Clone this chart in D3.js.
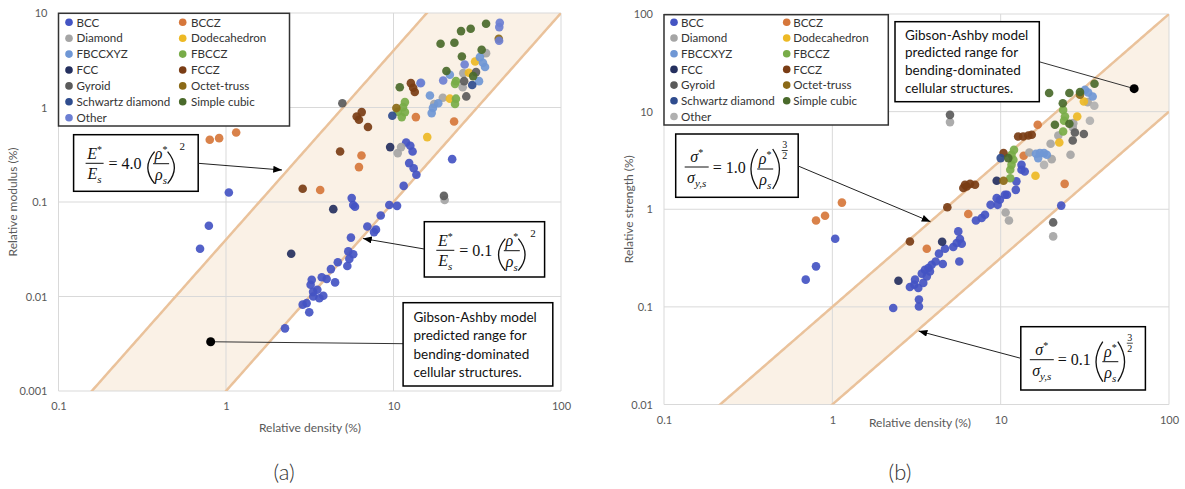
<!DOCTYPE html>
<html><head><meta charset="utf-8">
<script src="https://cdn.jsdelivr.net/npm/d3@7"></script>
<style>body{margin:0;background:#fff}svg{display:block}</style>
</head><body><svg id="c" width="1185" height="489"></svg>
<script>
// ---------- tick labels ----------
const xTicks=[0.1,1,10,100];
const yTicksModulus=[0.001,0.01,0.1,1,10];
const yTicksStrength=[0.01,0.1,1,10,100];
// ---------- categories ----------
const seriesNames=["BCC","BCCZ","Diamond","Dodecahedron","FBCCXYZ","FBCCZ","FCC","FCCZ","Gyroid","Octet-truss","Schwartz diamond","Simple cubic","Other"];
const colorsModulus=["#4454c3","#d6773b","#a5a5a5","#edb925","#6f97d5","#78ac48","#25305f","#7a3d15","#5b5b5b","#8b6a17","#2f4c8e","#4a6a2b","#6c7fd3"];
const colorsStrength=["#4454c3","#d6773b","#a5a5a5","#edb925","#6f97d5","#78ac48","#25305f","#7a3d15","#5b5b5b","#8b6a17","#2f4c8e","#4a6a2b","#b0b0b0"];
// ---------- model coefficients ----------
const modulusCoeffs=[4.0,0.1]; const modulusExponent=2;
const strengthCoeffs=[1.0,0.1]; const strengthExponent=1.5;
// ---------- (a) relative density (%) vs relative modulus (%) ----------
const mBCC=[[1.04,0.126],[0.79,0.056],[0.70,0.032],[22.4,0.284],[2.25,0.0046],[5.63,0.110],[5.75,0.093],[5.89,0.089],[9.44,0.093],[10.5,0.091],[8.39,0.072],[6.98,0.055],[7.86,0.051],[7.65,0.048],[5.57,0.042],[5.37,0.030],[5.75,0.028],[5.45,0.025],[5.30,0.021],[4.65,0.023],[4.23,0.0195],[3.99,0.0153],[4.48,0.0141],[3.73,0.0160],[3.25,0.0150],[3.20,0.0133],[3.51,0.0118],[3.81,0.0102],[3.61,0.0096],[3.32,0.0100],[3.03,0.0085],[2.87,0.0082],[3.14,0.0068],[3.31,0.0112],[11.9,0.426],[12.6,0.393],[13.0,0.342],[12.4,0.258],[13.2,0.228],[13.7,0.194],[11.5,0.148]];
const mBCCZ=[[0.80,0.455],[0.91,0.474],[1.15,0.544],[6.44,0.311],[6.22,0.234],[3.65,0.134],[13.6,0.791],[23.0,0.711]];
const mDiamond=[[20.2,0.105],[10.6,0.329],[11.1,0.381],[35.7,3.76],[26.1,2.31],[25.9,1.64],[19.7,1.27],[17.5,1.09]];
const mDodecahedron=[[15.9,0.486],[30.7,3.07],[28.2,2.33],[21.7,1.24]];
const mFBCCXYZ=[[35.2,2.68],[34.2,2.97],[32.8,3.41],[32.4,1.90],[16.9,0.872],[17.2,0.99],[18.5,1.11],[16.5,1.34],[14.6,1.83],[21.7,2.22]];
const mFBCCZ=[[23.6,1.90],[23.3,1.78],[23.6,1.24],[23.3,1.09],[11.7,1.14],[11.4,1.01],[11.2,0.791],[11.7,0.894],[10.6,0.90]];
const mFCC=[[2.45,0.0283],[4.37,0.084],[9.55,0.381]];
const mFCCZ=[[6.03,0.803],[6.22,0.741],[6.46,0.894],[7.04,0.621],[4.80,0.342],[2.87,0.138],[12.7,1.81],[13.1,1.62],[13.4,1.46]];
const mGyroid=[[4.95,1.11],[20.0,0.116],[31.1,2.37],[26.4,1.90],[27.2,1.31]];
const mOctet=[[10.4,0.986],[42.5,5.33]];
const mSchwartz=[[9.84,0.817],[29.5,1.73]];
const mSimpleCubic=[[35.7,7.69],[28.9,6.81],[25.3,6.43],[19.1,4.72],[23.1,4.84],[33.6,4.08],[25.6,3.47],[20.7,2.43],[29.9,2.15],[10.9,1.64]];
const mOther=[[26.6,2.85],[19.8,1.93],[42.8,7.09],[43.1,7.87],[42.7,5.08],[14.5,1.81]];
// ---------- (b) relative density (%) vs relative strength (%) ----------
const sBCC=[[1.04,0.499],[0.80,0.260],[0.695,0.190],[22.9,1.09],[2.30,0.0975],[3.27,0.119],[3.27,0.101],[2.89,0.160],[3.07,0.169],[3.24,0.156],[3.47,0.176],[3.10,0.190],[3.40,0.219],[3.55,0.240],[3.64,0.205],[3.80,0.231],[3.72,0.250],[3.89,0.270],[4.11,0.292],[4.53,0.275],[4.30,0.351],[4.67,0.394],[5.23,0.410],[5.48,0.451],[5.73,0.495],[5.60,0.593],[5.87,0.444],[5.68,0.292],[7.13,0.768],[7.71,0.813],[8.07,0.879],[9.89,1.25],[10.9,1.41],[9.59,1.11],[8.71,1.11],[13.3,2.85],[13.3,2.54],[13.9,2.44],[12.4,1.93],[12.3,1.58],[10.6,1.41],[9.47,1.30]];
const sBCCZ=[[1.14,1.17],[0.80,0.768],[0.905,0.858],[3.64,0.394],[6.42,0.893],[24.0,1.82],[16.6,7.33],[13.7,3.53]];
const sDiamond=[[5.00,7.81],[20.5,0.527],[10.7,0.927],[11.2,0.768],[32.9,12.5],[27.0,7.62],[26.8,6.94],[22.0,5.69],[19.8,4.68],[14.8,3.81],[26.0,3.61],[20.1,3.26]];
const sDodecahedron=[[16.1,2.20],[28.5,8.91],[31.2,12.7],[22.3,4.83]];
const sFBCCXYZ=[[33.1,15.7],[35.2,14.3],[31.7,16.7],[17.1,3.76],[18.1,3.76],[18.8,3.61],[16.7,3.34],[16.2,3.70]];
const sFBCCZ=[[23.5,10.4],[24.1,8.91],[23.8,8.05],[23.5,6.25],[11.6,3.61],[11.9,3.21],[11.6,2.85],[11.4,2.54],[11.4,2.08],[12.0,4.06]];
const sFCC=[[2.47,0.185],[4.49,0.465],[9.47,1.96]];
const sFCCZ=[[2.89,0.468],[4.82,1.05],[6.00,1.65],[6.28,1.71],[6.58,1.82],[7.04,1.78],[6.14,1.78],[10.4,3.76],[12.7,5.56],[13.6,5.56],[14.6,5.69],[15.3,5.79]];
const sGyroid=[[5.00,9.27],[20.5,0.733],[27.6,6.11],[31.2,5.89],[26.8,5.06]];
const sOctet=[[10.4,1.96],[29.6,14.9]];
const sSchwartz=[[10.0,3.34]];
const sSimpleCubic=[[19.4,15.5],[25.6,15.5],[29.6,15.9],[36.1,19.3],[23.4,12.2],[21.0,7.33],[25.6,7.50],[11.1,3.34]];
const sOther=[[36.0,11.5],[33.9,8.05],[18.1,2.85]];
// ---------- annotation anchor points (data units) ----------
const gibsonDotModulus=[0.81,0.00332];
const gibsonDotStrength=[62.1,17.2];

const modulusData=[mBCC,mBCCZ,mDiamond,mDodecahedron,mFBCCXYZ,mFBCCZ,mFCC,mFCCZ,mGyroid,mOctet,mSchwartz,mSimpleCubic,mOther];
const strengthData=[sBCC,sBCCZ,sDiamond,sDodecahedron,sFBCCXYZ,sFBCCZ,sFCC,sFCCZ,sGyroid,sOctet,sSchwartz,sSimpleCubic,sOther];

const SANS="Lato,'Noto Sans',sans-serif";
const SERIF="'Liberation Serif','DejaVu Serif',serif";
const svg=d3.select("#c");
const defs=svg.append("defs");
defs.append("marker").attr("id","arr").attr("viewBox","0 0 10 8").attr("refX",10).attr("refY",4)
  .attr("markerWidth",9).attr("markerHeight",7).attr("markerUnits","userSpaceOnUse").attr("orient","auto")
  .append("path").attr("d","M0,0L10,4L0,8Z").attr("fill","#000");

function panel(cfg){
  const g=svg.append("g");
  const x=d3.scaleLog().domain([0.1,100]).range([cfg.left,cfg.right]);
  const y=d3.scaleLog().domain(cfg.yDomain).range([cfg.bottom,cfg.top]);
  const cid="clip"+cfg.id;
  defs.append("clipPath").attr("id",cid).append("rect").attr("x",cfg.left).attr("y",cfg.top)
    .attr("width",cfg.right-cfg.left).attr("height",cfg.bottom-cfg.top);
  const xs=d3.range(0,241).map(i=>Math.pow(10,-1+i*3/240));
  const model=c=>xs.map(v=>[v,c*Math.pow(v/100,cfg.exponent)*100]);
  const upper=model(cfg.coeffs[0]), lower=model(cfg.coeffs[1]);
  const line=d3.line().x(d=>x(d[0])).y(d=>y(d[1]));
  const band=g.append("g").attr("clip-path",`url(#${cid})`);
  band.append("path").attr("d",line(upper.concat(lower.slice().reverse()))+"Z").attr("fill","#faf1e6");
  // grid
  g.append("g").selectAll("line").data(xTicks).join("line")
    .attr("x1",d=>x(d)).attr("x2",d=>x(d)).attr("y1",cfg.top).attr("y2",cfg.bottom)
    .attr("stroke","#d9d9d9").attr("stroke-width",1);
  g.append("g").selectAll("line").data(cfg.yTicks).join("line")
    .attr("y1",d=>y(d)).attr("y2",d=>y(d)).attr("x1",cfg.left).attr("x2",cfg.right)
    .attr("stroke","#d9d9d9").attr("stroke-width",1);
  const bl=g.append("g").attr("clip-path",`url(#${cid})`);
  [upper,lower].forEach(l=>bl.append("path").attr("d",line(l)).attr("fill","none").attr("stroke","#eac29b").attr("stroke-width",2.5));
  // axes
  const ax=g.append("g").attr("transform",`translate(0,${cfg.bottom})`)
    .call(d3.axisBottom(x).tickValues(xTicks).tickFormat(d=>String(d)).tickSize(0).tickPadding(cfg.xPad));
  const ay=g.append("g").attr("transform",`translate(${cfg.left},0)`)
    .call(d3.axisLeft(y).tickValues(cfg.yTicks).tickFormat(d=>String(d)).tickSize(0).tickPadding(11));
  [ax,ay].forEach(a=>{a.select(".domain").remove();a.attr("font-family",SANS).attr("font-size",11);a.selectAll("text").attr("fill","#595959");});
  // points
  cfg.data.forEach((arr,i)=>{
    g.append("g").selectAll("circle").data(arr).join("circle")
      .attr("cx",d=>x(d[0])).attr("cy",d=>y(d[1])).attr("r",4.3)
      .attr("fill",cfg.colors[i]).attr("fill-opacity",0.92);
  });
  // titles
  g.append("text").attr("x",cfg.xTitleX).attr("y",cfg.xTitleY).attr("text-anchor","middle")
    .attr("font-family",SANS).attr("font-size",12).attr("fill","#595959").text("Relative density (%)");
  g.append("text").attr("transform",`translate(${cfg.yTitleX},${(cfg.top+cfg.bottom)/2}) rotate(-90)`).attr("text-anchor","middle")
    .attr("font-family",SANS).attr("font-size",12).attr("fill","#595959").text(cfg.yTitle);
  g.append("text").attr("x",cfg.labelX).attr("y",480).attr("text-anchor","middle")
    .attr("font-family",SANS).attr("font-weight",300).attr("font-size",22).attr("fill","#333").text(cfg.label);
  // legend
  const L=cfg.legend;
  g.append("rect").attr("x",L.x).attr("y",L.y).attr("width",L.w).attr("height",L.h)
    .attr("fill","#fff").attr("stroke","#333").attr("stroke-width",1.5);
  seriesNames.forEach((n,i)=>{
    const col=i%2, row=Math.floor(i/2);
    const cy=L.rowY0+row*L.rowStep;
    g.append("circle").attr("cx",col?L.m2:L.m1).attr("cy",cy).attr("r",3.8).attr("fill",cfg.colors[i]);
    g.append("text").attr("x",col?L.t2:L.t1).attr("y",cy+4.2).attr("font-family",SANS).attr("font-size",11.6)
      .attr("fill","#333").text(n);
  });
  const dot=cfg.dot;
  return {g,x,y,dotPx:[x(dot[0]),y(dot[1])]};
}

function textBox(g,b,lines){
  g.append("rect").attr("x",b.x).attr("y",b.y).attr("width",b.w).attr("height",b.h)
    .attr("fill","#fff").attr("stroke","#000").attr("stroke-width",1.5);
  lines.forEach((t,i)=>g.append("text").attr("x",b.tx).attr("y",b.ty+i*b.ls)
    .attr("font-family",SANS).attr("font-size",13.5).attr("fill","#111").text(t));
}
function arrow(g,x1,y1,x2,y2){
  g.append("line").attr("x1",x1).attr("y1",y1).attr("x2",x2).attr("y2",y2)
    .attr("stroke","#222").attr("stroke-width",1).attr("marker-end","url(#arr)");
}
function eqBox(g,b,kind,coef,L){
  g.append("rect").attr("x",b.x).attr("y",b.y).attr("width",b.w).attr("height",b.h)
    .attr("fill","#fff").attr("stroke","#000").attr("stroke-width",1.5);
  const X=v=>b.x+v, Y=v=>b.y+v;
  const sym=kind==="E"?"E":"σ";
  const t=(xx,yy,size,italic)=>g.append("text").attr("x",xx).attr("y",yy).attr("font-family",SERIF)
    .attr("font-size",size).attr("font-style",italic?"italic":"normal").attr("fill","#111");
  const n1=t(X(L.fc),Y(L.numY),16,true).attr("text-anchor","middle");
  n1.append("tspan").text(sym); n1.append("tspan").attr("dy",-6).attr("font-size",10).attr("font-style","normal").text("*");
  g.append("line").attr("x1",X(L.fc-L.fw/2)).attr("x2",X(L.fc+L.fw/2)).attr("y1",Y(L.barY)).attr("y2",Y(L.barY)).attr("stroke","#111").attr("stroke-width",1);
  const d1=t(X(L.fc),Y(L.denY),16,true).attr("text-anchor","middle");
  d1.append("tspan").text(sym); d1.append("tspan").attr("dy",4).attr("font-size",11).text(kind==="E"?"s":"y,s");
  t(X(L.eqX),Y(L.eqY),16,false).text("= "+coef);
  const mid=(L.pTop+L.pBot)/2;
  g.append("path").attr("d",`M${X(L.pl+7)},${Y(L.pTop)}Q${X(L.pl-6.5)},${Y(mid)} ${X(L.pl+7)},${Y(L.pBot)}`).attr("fill","none").attr("stroke","#111").attr("stroke-width",1.3);
  g.append("path").attr("d",`M${X(L.pr-7)},${Y(L.pTop)}Q${X(L.pr+6.5)},${Y(mid)} ${X(L.pr-7)},${Y(L.pBot)}`).attr("fill","none").attr("stroke","#111").attr("stroke-width",1.3);
  const n2=t(X(L.ic),Y(L.inumY),16,true).attr("text-anchor","middle");
  n2.append("tspan").text("ρ"); n2.append("tspan").attr("dy",-6).attr("font-size",10).attr("font-style","normal").text("*");
  g.append("line").attr("x1",X(L.ic-L.iw/2)).attr("x2",X(L.ic+L.iw/2)).attr("y1",Y(L.ibarY)).attr("y2",Y(L.ibarY)).attr("stroke","#111").attr("stroke-width",1);
  const d2=t(X(L.ic),Y(L.idenY),16,true).attr("text-anchor","middle");
  d2.append("tspan").text("ρ"); d2.append("tspan").attr("dy",4).attr("font-size",11).text("s");
  if(kind==="E"){
    t(X(L.supX),Y(L.supY),11,false).text("2");
  } else {
    t(X(L.supX),Y(L.sup3Y),10,false).attr("text-anchor","middle").text("3");
    g.append("line").attr("x1",X(L.supX-3)).attr("x2",X(L.supX+3)).attr("y1",Y(L.supBarY)).attr("y2",Y(L.supBarY)).attr("stroke","#111").attr("stroke-width",0.8);
    t(X(L.supX),Y(L.sup2Y),10,false).attr("text-anchor","middle").text("2");
  }
}

const LE={fc:21,fw:18,numY:24,barY:28.6,denY:44,eqX:35,eqY:34.5,pl:74,pr:101,pTop:17,pBot:49,ic:87.5,iw:16,inumY:24,ibarY:29,idenY:45,supX:106,supY:15};
const LS={fc:21,fw:24,numY:28,barY:33,denY:49,eqX:37,eqY:38.5,pl:75,pr:104,pTop:15,pBot:55,ic:89.5,iw:16,inumY:30,ibarY:35,idenY:51,supX:109,sup3Y:14,supBarY:16.5,sup2Y:25};

// ---------- panel (a) ----------
const A=panel({id:"a",left:58.5,right:561,top:13,bottom:391,yDomain:[0.001,10],yTicks:yTicksModulus,
  coeffs:modulusCoeffs,exponent:modulusExponent,data:modulusData,colors:colorsModulus,xPad:11,
  xTitleX:310,xTitleY:432,yTitle:"Relative modulus (%)",yTitleX:17,label:"(a)",labelX:284,
  legend:{x:58.5,y:13.3,w:231,h:112.7,m1:69,t1:76.5,m2:182.7,t2:191,rowY0:22.3,rowStep:15.9},
  dot:gibsonDotModulus});
eqBox(A.g,{x:73.6,y:134.7,w:124.6,h:56.6},"E","4.0",LE);
arrow(A.g,198.2,163.3,282,170);
eqBox(A.g,{x:424.3,y:221.7,w:120.3,h:55.3},"E","0.1",LE);
arrow(A.g,424.3,249,363,238.5);
A.g.append("line").attr("x1",403).attr("y1",343.7).attr("x2",A.dotPx[0]).attr("y2",A.dotPx[1]).attr("stroke","#333").attr("stroke-width",1);
A.g.append("circle").attr("cx",A.dotPx[0]).attr("cy",A.dotPx[1]).attr("r",4.5).attr("fill","#000");
textBox(A.g,{x:403.1,y:302.7,w:149.7,h:83.3,tx:413.5,ty:321.5,ls:18.5},["Gibson-Ashby model","predicted range for","bending-dominated","cellular structures."]);

// ---------- panel (b) ----------
const B=panel({id:"b",left:664,right:1169,top:14,bottom:404.5,yDomain:[0.01,100],yTicks:yTicksStrength,
  coeffs:strengthCoeffs,exponent:strengthExponent,data:strengthData,colors:colorsStrength,xPad:12,
  xTitleX:920,xTitleY:427,yTitle:"Relative strength (%)",yTitleX:633,label:"(b)",labelX:900,
  legend:{x:664,y:14.7,w:224.3,h:110.3,m1:674,t1:681,m2:786.7,t2:793.3,rowY0:22.3,rowStep:15.7},
  dot:gibsonDotStrength});
eqBox(B.g,{x:675.7,y:134,w:122.5,h:63.3},"S","1.0",LS);
arrow(B.g,798.2,166,930.5,221.7);
eqBox(B.g,{x:1020.8,y:326.7,w:124.6,h:63.3},"S","0.1",LS);
arrow(B.g,1020.8,358.3,918.6,331);
B.g.append("line").attr("x1",1039).attr("y1",61.7).attr("x2",B.dotPx[0]).attr("y2",B.dotPx[1]).attr("stroke","#333").attr("stroke-width",1);
B.g.append("circle").attr("cx",B.dotPx[0]).attr("cy",B.dotPx[1]).attr("r",4.5).attr("fill","#000");
textBox(B.g,{x:895,y:21.7,w:144.3,h:80,tx:905,ty:39.5,ls:17.8},["Gibson-Ashby model","predicted range for","bending-dominated","cellular structures."]);
</script></body></html>
